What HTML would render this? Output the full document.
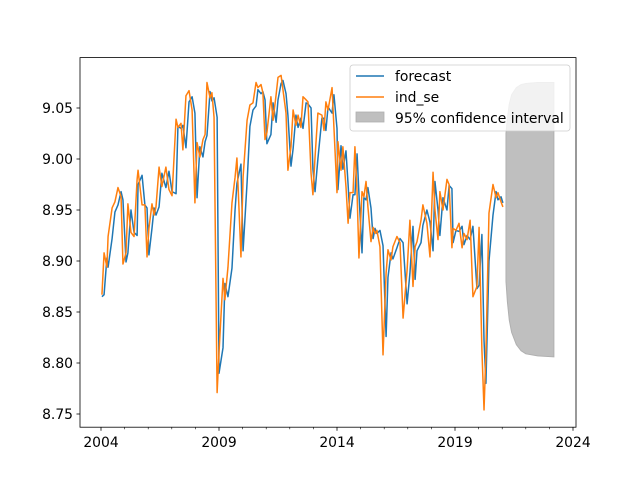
<!DOCTYPE html>
<html><head><meta charset="utf-8"><style>
body{margin:0;background:#fff}
svg{display:block;font-family:"DejaVu Sans","Liberation Sans",sans-serif}
</style></head><body>
<svg id="chart" width="640" height="480"></svg>
<script>
const dates=[2004.04,2004.13,2004.25,2004.30,2004.47,2004.59,2004.72,2004.85,2004.93,2005.06,2005.14,2005.27,2005.40,2005.53,2005.57,2005.74,2005.86,2005.95,2006.03,2006.16,2006.25,2006.33,2006.46,2006.58,2006.75,2006.88,2007.01,2007.18,2007.26,2007.39,2007.47,2007.60,2007.73,2007.86,2007.98,2008.07,2008.19,2008.32,2008.41,2008.49,2008.62,2008.70,2008.79,2008.92,2009.00,2009.17,2009.25,2009.38,2009.55,2009.68,2009.76,2009.93,2010.02,2010.19,2010.31,2010.44,2010.57,2010.65,2010.78,2010.86,2010.95,2011.03,2011.20,2011.29,2011.42,2011.50,2011.63,2011.71,2011.84,2011.92,2012.05,2012.14,2012.26,2012.35,2012.47,2012.56,2012.69,2012.77,2012.90,2012.98,2013.07,2013.19,2013.36,2013.45,2013.53,2013.62,2013.79,2013.87,2014.00,2014.04,2014.17,2014.25,2014.38,2014.47,2014.55,2014.68,2014.76,2014.85,2014.93,2015.06,2015.14,2015.23,2015.31,2015.44,2015.53,2015.61,2015.69,2015.82,2015.95,2016.08,2016.16,2016.29,2016.37,2016.54,2016.67,2016.80,2016.97,2017.09,2017.22,2017.31,2017.39,2017.56,2017.64,2017.81,2017.94,2018.07,2018.15,2018.28,2018.36,2018.49,2018.66,2018.75,2018.87,2018.92,2019.04,2019.17,2019.30,2019.38,2019.51,2019.64,2019.76,2019.93,2020.02,2020.14,2020.23,2020.31,2020.44,2020.61,2020.74,2020.82,2020.95,2021.03,2021.12];
const indSe=[8.867,8.908,8.894,8.924,8.952,8.958,8.972,8.963,8.897,8.908,8.956,8.928,8.924,8.980,8.989,8.955,8.955,8.904,8.932,8.956,8.945,8.953,8.992,8.973,8.992,8.970,8.964,9.039,9.031,9.035,9.009,9.062,9.067,9.048,8.957,9.016,9.002,9.019,9.024,9.075,9.060,9.065,9.041,8.771,8.810,8.883,8.862,8.894,8.957,8.982,9.001,8.904,8.982,9.038,9.053,9.055,9.075,9.070,9.073,9.065,9.019,9.026,9.061,9.038,9.063,9.080,9.082,9.068,9.045,8.989,9.012,9.048,9.033,9.043,9.031,9.061,9.058,9.056,8.986,8.965,9.002,9.045,9.043,9.028,9.056,9.048,9.070,9.031,8.967,9.017,8.989,9.012,8.973,8.937,8.967,8.967,9.012,8.967,8.903,8.968,8.963,8.978,8.953,8.919,8.933,8.927,8.930,8.914,8.808,8.888,8.911,8.901,8.914,8.924,8.918,8.844,8.891,8.940,8.875,8.914,8.919,8.940,8.955,8.937,8.904,8.987,8.950,8.921,8.968,8.950,8.980,8.975,8.913,8.932,8.930,8.937,8.913,8.927,8.921,8.940,8.865,8.875,8.933,8.813,8.754,8.810,8.947,8.975,8.962,8.967,8.958,8.953];
const fitted=[8.865,8.867,8.903,8.894,8.922,8.948,8.955,8.968,8.960,8.899,8.908,8.950,8.928,8.925,8.975,8.984,8.955,8.952,8.906,8.932,8.952,8.945,8.953,8.986,8.972,8.988,8.968,8.966,9.032,9.030,9.033,9.011,9.056,9.061,9.045,8.962,9.012,9.002,9.017,9.023,9.066,9.057,9.060,9.041,8.790,8.815,8.878,8.865,8.893,8.950,8.976,8.995,8.910,8.977,9.032,9.048,9.052,9.068,9.064,9.066,9.058,9.015,9.024,9.055,9.036,9.058,9.074,9.077,9.064,9.043,8.993,9.010,9.043,9.031,9.040,9.030,9.055,9.054,9.050,8.990,8.968,9.000,9.040,9.040,9.028,9.051,9.045,9.063,9.030,8.970,9.013,8.990,9.008,8.975,8.942,8.965,8.965,9.005,8.966,8.908,8.962,8.960,8.972,8.952,8.922,8.932,8.927,8.930,8.915,8.826,8.884,8.908,8.902,8.913,8.922,8.918,8.858,8.888,8.934,8.882,8.910,8.918,8.935,8.950,8.938,8.910,8.978,8.950,8.925,8.962,8.950,8.974,8.971,8.918,8.930,8.929,8.934,8.916,8.925,8.921,8.934,8.873,8.876,8.926,8.822,8.780,8.900,8.945,8.968,8.960,8.963,8.957];
const fcDates=[2021.12,2021.16,2021.5,2022.0,2022.5,2023.19];
const fcVals=[8.953,8.944,8.943,8.942,8.941,8.939];
const ciDates=[2021.16,2021.22,2021.3,2021.4,2021.6,2021.8,2022.0,2022.5,2023.19];
const ciUpper=[9.025,9.040,9.054,9.063,9.070,9.073,9.074,9.075,9.075];
const ciLower=[8.880,8.860,8.842,8.830,8.818,8.812,8.809,8.807,8.806];
const yTicks=[8.75,8.80,8.85,8.90,8.95,9.00,9.05];
const xMajor=[2004,2009,2014,2019,2024];

const NS="http://www.w3.org/2000/svg";
const svg=document.getElementById('chart');
const L=80,R=576,T=57.6,B=427.2;
const xs=yr=>101+(yr-2004)*23.6;
const ys=v=>414-(v-8.75)/0.05*51;
function mk(tag,attrs,parent){const e=document.createElementNS(NS,tag);for(const k in attrs)e.setAttribute(k,attrs[k]);(parent||svg).appendChild(e);return e;}
const clip=mk('clipPath',{id:'c'});mk('rect',{x:L,y:T,width:R-L,height:B-T},clip);
const plot=mk('g',{'clip-path':'url(#c)'});

let up=ciDates.map((d,i)=>xs(d)+','+ys(ciUpper[i]));
let lo=ciDates.map((d,i)=>xs(d)+','+ys(ciLower[i])).reverse();
const ci=mk('polygon',{points:up.concat(lo).join(' '),fill:'#bfbfbf',stroke:'#b0b0b0','stroke-width':1},plot);



const fl=mk('polyline',{points:dates.map((d,i)=>xs(d)+','+ys(fitted[i])).concat(fcDates.map((d,i)=>xs(d)+','+ys(fcVals[i]))).join(' '),fill:'none',stroke:'#1f77b4','stroke-width':1.5,'stroke-linejoin':'round'},plot);


const il=mk('polyline',{points:dates.map((d,i)=>xs(d)+','+ys(indSe[i])).join(' '),fill:'none',stroke:'#ff7f0e','stroke-width':1.5,'stroke-linejoin':'round'},plot);



yTicks.forEach(v=>{const y=ys(v);mk('line',{x1:L-3.5,x2:L,y1:y,y2:y,stroke:'#000','stroke-width':0.8});
const t=mk('text',{x:L-7,y:y+5,'text-anchor':'end','font-size':'13.9px',fill:'#000'});t.textContent=v.toFixed(2);

});
for(let yr=2004;yr<=2024;yr++){const x=xs(yr);const maj=xMajor.includes(yr);
mk('line',{x1:x,x2:x,y1:B,y2:B+(maj?3.5:2),stroke:'#000','stroke-width':maj?0.8:0.6});
if(maj){const t=mk('text',{x:x,y:B+20,'text-anchor':'middle','font-size':'13.9px',fill:'#000'});t.textContent=yr;

}}
mk('rect',{x:L,y:T,width:R-L,height:B-T,fill:'none',stroke:'#000','stroke-width':0.8});

const lg=mk('g',{});


mk('rect',{x:350,y:65,width:220,height:66,rx:3,fill:'rgba(255,255,255,0.8)',stroke:'#ccc','stroke-width':0.8},lg);
mk('line',{x1:356,x2:384,y1:76,y2:76,stroke:'#1f77b4','stroke-width':1.5},lg);
mk('line',{x1:356,x2:384,y1:97,y2:97,stroke:'#ff7f0e','stroke-width':1.5},lg);
mk('rect',{x:356,y:112,width:28,height:10,fill:'#bfbfbf',stroke:'#b0b0b0','stroke-width':0.8},lg);
[['forecast',81],['ind_se',102],['95% confidence interval',123]].forEach(([s,y])=>{const t=mk('text',{x:395,y:y,'font-size':'13.9px',fill:'#000'},lg);t.textContent=s;

});
</script>
</body></html>
